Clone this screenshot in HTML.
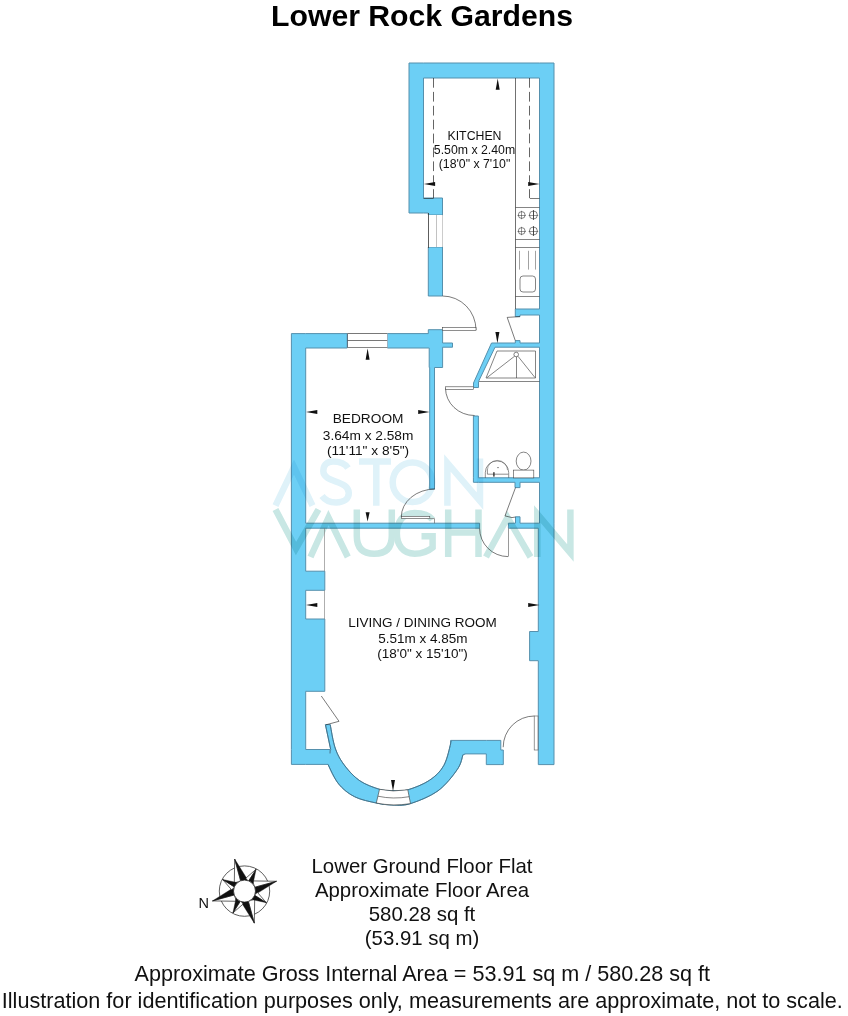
<!DOCTYPE html>
<html><head><meta charset="utf-8"><style>
html,body{margin:0;padding:0;background:#fff;width:848px;height:1016px;overflow:hidden}
svg{display:block;font-family:"Liberation Sans",sans-serif}
</style></head><body>
<svg width="848" height="1016" viewBox="0 0 848 1016">
<path d="M423.50,213.00 L428.30,213.00 L428.30,215.00 L442.50,215.00 L442.50,213.00 L442.50,198.00 L423.50,198.00 L423.50,78.00 L539.50,78.00 L539.50,309.00 L515.30,309.00 L515.30,315.00 L515.30,316.60 L520.00,316.60 L520.00,315.00 L539.50,315.00 L539.50,343.00 L520.00,343.00 L520.00,340.60 L515.30,340.60 L515.30,343.00 L491.50,343.00 L473.50,383.00 L473.50,387.50 L478.50,387.50 L478.50,381.50 L495.00,347.20 L539.50,347.20 L539.50,477.80 L478.40,477.80 L478.40,416.00 L473.40,416.00 L473.40,477.80 L473.40,482.30 L478.40,482.30 L515.00,482.30 L515.00,487.60 L520.00,487.60 L520.00,482.30 L539.50,482.30 L539.50,523.20 L538.30,523.20 L520.00,523.20 L520.00,516.80 L515.50,516.80 L515.50,523.20 L508.40,523.20 L508.40,528.20 L538.30,528.20 L538.30,631.50 L529.60,631.50 L529.60,660.70 L538.30,660.70 L538.30,764.60 L554.00,764.60 L554.00,528.20 L554.00,523.20 L554.00,78.00 L554.00,63.00 L539.50,63.00 L423.50,63.00 L409.00,63.00 L409.00,78.00 L409.00,198.00 L409.00,213.00Z M428.30,247.00 L428.30,296.00 L442.50,296.00 L442.50,247.00Z M428.30,348.00 L429.20,348.00 L429.20,367.50 L429.70,367.50 L429.70,489.00 L434.50,489.00 L434.50,367.50 L442.60,367.50 L442.60,348.00 L442.60,347.20 L452.50,347.20 L452.50,343.00 L442.60,343.00 L442.60,329.70 L428.30,329.70 L428.30,333.60 L387.40,333.60 L387.40,348.00Z M305.70,333.60 L291.40,333.60 L291.40,348.00 L291.40,749.50 L291.40,764.40 L305.70,764.40 L328.00,764.40 L328.86,766.38 L329.76,768.42 L330.70,770.48 L331.69,772.56 L332.73,774.62 L333.82,776.65 L334.96,778.62 L336.15,780.52 L337.40,782.32 L338.70,784.00 L340.05,785.58 L341.45,787.08 L342.91,788.52 L344.41,789.88 L345.96,791.18 L347.57,792.41 L349.24,793.58 L350.97,794.68 L352.75,795.72 L354.60,796.70 L356.56,797.61 L358.65,798.44 L360.84,799.20 L363.10,799.89 L365.40,800.52 L367.70,801.10 L369.97,801.63 L372.19,802.12 L374.31,802.57 L376.30,803.00 L378.17,803.39 L379.95,803.73 L381.65,804.02 L383.30,804.27 L384.91,804.48 L386.50,804.65 L388.09,804.79 L389.69,804.89 L391.32,804.96 L393.00,805.00 L394.67,805.05 L396.29,805.12 L397.88,805.19 L399.46,805.23 L401.07,805.23 L402.74,805.14 L404.49,804.96 L406.35,804.66 L408.34,804.22 L410.50,803.60 L412.88,802.82 L415.49,801.90 L418.28,800.86 L421.18,799.70 L424.14,798.44 L427.12,797.07 L430.05,795.62 L432.87,794.08 L435.54,792.47 L438.00,790.80 L440.32,788.99 L442.59,787.00 L444.79,784.86 L446.92,782.62 L448.96,780.33 L450.88,778.03 L452.69,775.76 L454.35,773.57 L455.86,771.50 L457.20,769.60 L458.34,767.85 L459.26,766.21 L460.01,764.66 L460.62,763.18 L461.11,761.74 L461.52,760.34 L461.89,758.96 L462.23,757.57 L462.59,756.15 L463.00,754.70 L465.00,754.20 L464.78,753.90 L486.30,753.90 L486.30,764.60 L500.80,764.60 L503.30,764.60 L503.30,750.00 L500.80,750.00 L500.80,740.40 L486.30,740.40 L455.00,740.40 L450.60,740.40 L450.60,743.96 L450.23,745.58 L449.64,748.12 L449.01,750.72 L448.32,753.35 L447.58,755.96 L446.78,758.50 L445.90,760.94 L444.94,763.22 L443.90,765.30 L442.78,767.20 L441.60,768.97 L440.35,770.64 L439.04,772.20 L437.65,773.68 L436.19,775.08 L434.66,776.42 L433.05,777.71 L431.36,778.97 L429.60,780.20 L427.69,781.41 L425.61,782.60 L423.39,783.74 L421.08,784.83 L418.73,785.87 L416.38,786.83 L414.06,787.72 L411.83,788.52 L409.73,789.21 L407.80,789.80 L406.03,790.26 L404.37,790.59 L402.80,790.81 L401.31,790.94 L399.88,790.99 L398.49,790.99 L397.12,790.95 L395.76,790.90 L394.40,790.84 L393.00,790.80 L391.62,790.78 L390.31,790.77 L389.05,790.75 L387.80,790.72 L386.55,790.64 L385.28,790.52 L383.96,790.34 L382.57,790.09 L381.09,789.74 L379.50,789.30 L377.77,788.76 L375.90,788.15 L373.92,787.46 L371.87,786.71 L369.79,785.88 L367.69,784.99 L365.63,784.03 L363.62,783.02 L361.70,781.94 L359.90,780.80 L358.20,779.59 L356.53,778.28 L354.91,776.89 L353.34,775.44 L351.82,773.93 L350.35,772.38 L348.93,770.80 L347.56,769.20 L346.25,767.60 L345.00,766.00 L343.81,764.42 L342.69,762.86 L341.62,761.29 L340.61,759.71 L339.65,758.10 L338.74,756.44 L337.87,754.71 L337.04,752.91 L336.26,751.01 L335.50,749.00 L334.79,746.84 L334.13,744.52 L333.52,742.07 L332.95,739.54 L332.42,736.96 L331.93,734.37 L331.47,731.80 L331.03,729.29 L330.61,726.88 L330.20,724.60 L325.40,724.60 L330.70,749.50 L330.00,753.36 L330.00,749.50 L305.70,749.50 L305.70,691.30 L324.80,691.30 L324.80,619.00 L305.70,619.00 L305.70,590.30 L324.80,590.30 L324.80,571.20 L305.70,571.20 L305.70,528.20 L479.60,528.20 L479.60,523.20 L305.70,523.20 L305.70,348.00 L347.20,348.00 L347.20,333.60Z " fill="#6ccff5" stroke="#5590ad" stroke-width="1" stroke-linejoin="miter"/>
<path d="M330.2,724.6 C331.1,728.7 333.0,742.1 335.5,749.0 C338.0,755.9 340.9,760.7 345.0,766.0 C349.1,771.3 354.1,776.9 359.9,780.8 C365.6,784.7 374.0,787.6 379.5,789.3 C385.0,791.0 388.3,790.7 393.0,790.8 C397.7,790.9 401.7,791.6 407.8,789.8 C413.9,788.0 423.6,784.3 429.6,780.2 C435.6,776.1 440.3,771.8 443.9,765.3 C447.5,758.8 450.1,745.0 451.3,740.9" fill="none" stroke="#3d6f86" stroke-width="0.8"/><path d="M463,754.7 C462.0,757.2 461.4,763.6 457.2,769.6 C453.0,775.6 445.8,785.1 438.0,790.8 C430.2,796.5 418.0,801.2 410.5,803.6 C403.0,806.0 398.7,805.1 393.0,805.0 C387.3,804.9 382.7,804.4 376.3,803.0 C369.9,801.6 360.9,799.9 354.6,796.7 C348.3,793.5 343.1,789.4 338.7,784.0 C334.3,778.6 329.8,767.7 328.0,764.4" fill="none" stroke="#3d6f86" stroke-width="0.8"/><path d="M325.4,724.6 L330.7,749.5" fill="none" stroke="#3d6f86" stroke-width="0.8"/><g fill="none" stroke-width="6.5" stroke-linejoin="miter" stroke-miterlimit="10" style="mix-blend-mode:multiply"><g stroke="#dff2f9"><path d="M275.5,505.7 L294,467 L312.5,505.7"/><path d="M348,468 C344,462 336,461.5 333,461.5 C326,461.5 323.3,466 323.3,471 C323.3,483 348.8,480 348.8,493 C348.8,499 344,502.5 336,502.5 C329,502.5 325,500 322,496"/><path d="M359,461.4 L391,461.4 M376.3,461.4 L376.3,505.7"/><circle cx="412.5" cy="482.2" r="19.8"/><path d="M447.4,505.7 L447.4,463 L480,501 L480,458.5"/></g><g stroke="#c8e7e4"><path d="M275.5,509.5 L296,548.5 L318.5,509.5"/><path d="M310.5,557 L328.5,517.5 L347.8,557"/><path d="M356.8,509.5 L356.8,536 C356.8,549 364,553.75 374.3,553.75 C384.6,553.75 391.8,549 391.8,536 L391.8,509.5"/><path d="M432.5,519.5 C428.5,514.5 422,512.9 414.7,512.9 C403,512.9 396.85,522 396.85,533.3 C396.85,545 403,553.75 414.7,553.75 C422,553.75 428.5,551 432.6,547.5 L432.6,536.2 L421.5,536.2"/><path d="M448.2,509.5 L448.2,557 M478.5,509.5 L478.5,557 M448.2,532.5 L478.5,532.5"/><path d="M486,557 L507.5,517.5 L530.5,557"/><path d="M537.3,557 L537.3,514 L570.4,553 L570.4,509.5"/></g></g>
<path d="M379.5,789.3 Q393,792.3 407.8,789.8 L410.5,803.6 Q393,806.5 376.3,803 Z" fill="#fff" stroke="#333" stroke-width="0.6"/><path d="M378,796.2 Q393,799.5 409.2,796.7" fill="none" stroke="#333" stroke-width="0.6"/><rect x="428.3" y="215" width="14.20" height="32.00" fill="#fff"/>
<line x1="428.5" y1="213" x2="428.5" y2="248" stroke="#333" stroke-width="0.8"/>
<line x1="436.5" y1="215" x2="436.5" y2="247" stroke="#999" stroke-width="0.6"/>
<line x1="442.5" y1="215" x2="442.5" y2="247" stroke="#aaa" stroke-width="0.6"/>
<line x1="515.5" y1="78" x2="515.5" y2="309" stroke="#333" stroke-width="0.7"/>
<line x1="515.5" y1="207.5" x2="539.5" y2="207.5" stroke="#333" stroke-width="0.6"/>
<line x1="515.5" y1="239.5" x2="539.5" y2="239.5" stroke="#333" stroke-width="0.6"/>
<line x1="515.5" y1="247.5" x2="539.5" y2="247.5" stroke="#333" stroke-width="0.6"/>
<line x1="515.5" y1="296.5" x2="539.5" y2="296.5" stroke="#333" stroke-width="0.6"/>
<circle cx="521.7" cy="215" r="3.4" fill="none" stroke="#333" stroke-width="0.6"/><line x1="517.5000000000001" y1="215.5" x2="525.9" y2="215.5" stroke="#333" stroke-width="0.5"/>
<line x1="521.5" y1="210.79999999999998" x2="521.5" y2="219.20000000000002" stroke="#333" stroke-width="0.5"/>
<circle cx="533.4" cy="215" r="4.0" fill="none" stroke="#333" stroke-width="0.6"/><line x1="528.6" y1="215.5" x2="538.1999999999999" y2="215.5" stroke="#333" stroke-width="0.5"/>
<line x1="533.5" y1="210.2" x2="533.5" y2="219.8" stroke="#333" stroke-width="0.9"/>
<circle cx="521.7" cy="231" r="3.4" fill="none" stroke="#333" stroke-width="0.6"/><line x1="517.5000000000001" y1="231.5" x2="525.9" y2="231.5" stroke="#333" stroke-width="0.5"/>
<line x1="521.5" y1="226.79999999999998" x2="521.5" y2="235.20000000000002" stroke="#333" stroke-width="0.5"/>
<circle cx="533.4" cy="231" r="4.0" fill="none" stroke="#333" stroke-width="0.6"/><line x1="528.6" y1="231.5" x2="538.1999999999999" y2="231.5" stroke="#333" stroke-width="0.5"/>
<line x1="533.5" y1="226.2" x2="533.5" y2="235.8" stroke="#333" stroke-width="0.9"/>
<line x1="519.5" y1="250.8" x2="519.5" y2="269.6" stroke="#444" stroke-width="0.5"/>
<line x1="528.5" y1="250.8" x2="528.5" y2="269.6" stroke="#444" stroke-width="0.5"/>
<line x1="535.5" y1="250.8" x2="535.5" y2="269.6" stroke="#444" stroke-width="0.5"/>
<rect x="520" y="276" width="15.5" height="16" rx="3" fill="none" stroke="#333" stroke-width="0.6"/><line x1="433.5" y1="78" x2="433.5" y2="198" stroke="#222" stroke-width="0.7" stroke-dasharray="9.7,4.2"/>
<line x1="529.5" y1="78" x2="529.5" y2="198" stroke="#222" stroke-width="0.7" stroke-dasharray="9.7,4.2"/>
<line x1="423.5" y1="198.5" x2="433.6" y2="198.5" stroke="#222" stroke-width="0.6"/>
<line x1="529.8" y1="198.5" x2="539.5" y2="198.5" stroke="#222" stroke-width="0.6"/>
<path d="M442.5,296 A33.5,34 0 0 1 476,330" fill="none" stroke="#222" stroke-width="0.6"/><rect x="442.5" y="327.5" width="33.50" height="3.00" fill="#fff" stroke="#444" stroke-width="0.6"/>
<path d="M520,316.6 L507.2,317.4 L515.3,340.6" fill="none" stroke="#222" stroke-width="0.6"/><path d="M497,351 L535.5,351 L535.5,378 L486,378 Z" fill="none" stroke="#333" stroke-width="0.6" stroke-linejoin="round"/><circle cx="516.2" cy="354.5" r="2.3" fill="#fff" stroke="#333" stroke-width="0.6"/><line x1="516.5" y1="356.8" x2="516.5" y2="378" stroke="#333" stroke-width="0.6"/>
<line x1="514.5" y1="356.3" x2="487" y2="377.6" stroke="#333" stroke-width="0.6"/>
<line x1="518" y1="356.3" x2="535" y2="377.6" stroke="#333" stroke-width="0.6"/>
<line x1="479" y1="381.5" x2="539.5" y2="381.5" stroke="#333" stroke-width="0.6"/>
<path d="M445.5,388 A29,27.5 0 0 0 474.5,415.5" fill="none" stroke="#222" stroke-width="0.6"/><rect x="445.5" y="386.8" width="28.00" height="2.50" fill="#fff" stroke="#444" stroke-width="0.6"/>
<path d="M485.3,477.9 L485.3,472.5 A11.7,11.6 0 0 1 508.7,472.5 L508.7,477.9" fill="none" stroke="#444" stroke-width="0.6"/><path d="M487.4,470 A10,9.5 0 0 1 507.5,470" fill="none" stroke="#555" stroke-width="0.5"/><path d="M487.4,469.8 L487.4,474.2 L508.3,474.2" fill="none" stroke="#444" stroke-width="0.6"/><rect x="493.2" y="472.2" width="1.40" height="4.40" fill="#333"/>
<circle cx="498" cy="467.6" r="0.7" fill="#444"/><ellipse cx="523.6" cy="461.1" rx="7.4" ry="9" fill="none" stroke="#333" stroke-width="0.6"/><rect x="513.3" y="470.1" width="20.50" height="7.80" fill="#fff" stroke="#444" stroke-width="0.6"/>
<path d="M515.5,487.6 L505,515.9 L512,517.6 L515.5,517" fill="none" stroke="#222" stroke-width="0.6"/><rect x="347.4" y="333.6" width="40.00" height="14.00" fill="#fff"/>
<line x1="347.4" y1="333.5" x2="387.4" y2="333.5" stroke="#555" stroke-width="0.8"/>
<line x1="347.4" y1="340.5" x2="387.4" y2="340.5" stroke="#555" stroke-width="0.8"/>
<line x1="347.4" y1="347.5" x2="387.4" y2="347.5" stroke="#666" stroke-width="0.8"/>
<line x1="347.5" y1="333.6" x2="347.5" y2="347.6" stroke="#456" stroke-width="0.8"/>
<line x1="387.5" y1="333.6" x2="387.5" y2="347.6" stroke="#9ab" stroke-width="0.6"/>
<path d="M435,489 A34,28 0 0 0 401.3,517" fill="none" stroke="#222" stroke-width="0.6"/><rect x="401.3" y="516.3" width="28.50" height="2.30" fill="#fff" stroke="#444" stroke-width="0.6"/>
<path d="M429.8,518.6 L434.5,518.6 L434.5,523.3" fill="none" stroke="#555" stroke-width="0.6"/><path d="M479.6,528.3 A28.5,28.3 0 0 0 508,556.6" fill="none" stroke="#222" stroke-width="0.6"/><line x1="508.5" y1="528.3" x2="508.5" y2="556.6" stroke="#555" stroke-width="0.6"/>
<line x1="324.5" y1="528.2" x2="324.5" y2="571.3" stroke="#777" stroke-width="0.6"/>
<line x1="324.5" y1="590.3" x2="324.5" y2="619" stroke="#777" stroke-width="0.6"/>
<path d="M321.3,696 L339,721.3 L326,724.8" fill="none" stroke="#222" stroke-width="0.6"/><path d="M534.4,716 A31.2,31.2 0 0 0 503.2,747.2" fill="none" stroke="#222" stroke-width="0.6"/><rect x="534.2" y="716" width="3.80" height="34.00" fill="#fff" stroke="#555" stroke-width="0.6"/>
<path d="M497.7,78.5 L495.7,89.8 L499.7,89.8 Z" fill="#111"/>
<path d="M423.8,184 L435.1,182.0 L435.1,186.0 Z" fill="#111"/>
<path d="M539.5,184 L528.2,182.0 L528.2,186.0 Z" fill="#111"/>
<path d="M495.4,332 L499.4,332 L497.4,343.3 Z" fill="#111"/>
<path d="M367.6,348.5 L365.6,359.8 L369.6,359.8 Z" fill="#111"/>
<path d="M306,412 L317.3,410.0 L317.3,414.0 Z" fill="#111"/>
<path d="M429.5,412 L418.2,410.0 L418.2,414.0 Z" fill="#111"/>
<path d="M365.6,512.3 L369.6,512.3 L367.6,521.5 Z" fill="#111"/>
<path d="M306,605 L317.3,603.0 L317.3,607.0 Z" fill="#111"/>
<path d="M539.5,604.9 L528.2,602.9 L528.2,606.9 Z" fill="#111"/>
<path d="M391.0,780 L395.0,780 L393,791.3 Z" fill="#111"/>
<circle cx="244.5" cy="891.1" r="25.2" fill="none" stroke="#333" stroke-width="0.8"/><polygon points="234.68,859.07 234.32,883.02 240.66,880.90" fill="#fff" stroke="#222" stroke-width="0.7" stroke-linejoin="round"/>
<polygon points="234.68,859.07 240.80,881.27 248.24,880.75" fill="#111" stroke="#111" stroke-width="0.4"/>
<polygon points="276.53,881.28 252.58,880.92 254.70,887.26" fill="#fff" stroke="#222" stroke-width="0.7" stroke-linejoin="round"/>
<polygon points="276.53,881.28 254.33,887.40 254.85,894.84" fill="#111" stroke="#111" stroke-width="0.4"/>
<polygon points="254.32,923.13 254.68,899.18 248.34,901.30" fill="#fff" stroke="#222" stroke-width="0.7" stroke-linejoin="round"/>
<polygon points="254.32,923.13 248.20,900.93 240.76,901.45" fill="#111" stroke="#111" stroke-width="0.4"/>
<polygon points="212.47,900.92 236.42,901.28 234.30,894.94" fill="#fff" stroke="#222" stroke-width="0.7" stroke-linejoin="round"/>
<polygon points="212.47,900.92 234.67,894.80 234.15,887.36" fill="#111" stroke="#111" stroke-width="0.4"/>
<polygon points="256.12,869.19 245.85,878.17 248.42,881.36" fill="#fff" stroke="#222" stroke-width="0.7" stroke-linejoin="round"/>
<polygon points="256.12,869.19 248.42,881.36 252.77,884.63" fill="#111" stroke="#111" stroke-width="0.4"/>
<polygon points="266.41,902.72 257.43,892.45 254.24,895.02" fill="#fff" stroke="#222" stroke-width="0.7" stroke-linejoin="round"/>
<polygon points="266.41,902.72 254.24,895.02 250.97,899.37" fill="#111" stroke="#111" stroke-width="0.4"/>
<polygon points="232.88,913.01 243.15,904.03 240.58,900.84" fill="#fff" stroke="#222" stroke-width="0.7" stroke-linejoin="round"/>
<polygon points="232.88,913.01 240.58,900.84 236.23,897.57" fill="#111" stroke="#111" stroke-width="0.4"/>
<polygon points="222.59,879.48 231.57,889.75 234.76,887.18" fill="#fff" stroke="#222" stroke-width="0.7" stroke-linejoin="round"/>
<polygon points="222.59,879.48 234.76,887.18 238.03,882.83" fill="#111" stroke="#111" stroke-width="0.4"/><circle cx="244.5" cy="891.1" r="11" fill="#fff" stroke="#222" stroke-width="0.8"/><text x="422" y="25.7" font-size="30.2" text-anchor="middle" font-weight="bold" fill="#000">Lower Rock Gardens</text>
<text x="474.5" y="139.5" font-size="12.3" text-anchor="middle" font-weight="normal" fill="#111">KITCHEN</text>
<text x="474.5" y="153.6" font-size="12.3" text-anchor="middle" font-weight="normal" fill="#111">5.50m x 2.40m</text>
<text x="474.5" y="168.3" font-size="12.3" text-anchor="middle" font-weight="normal" fill="#111">(18'0" x 7'10"</text>
<text x="368.1" y="423" font-size="13.7" text-anchor="middle" font-weight="normal" fill="#111">BEDROOM</text>
<text x="368.1" y="439.6" font-size="13.7" text-anchor="middle" font-weight="normal" fill="#111">3.64m x 2.58m</text>
<text x="368.1" y="454.5" font-size="13.7" text-anchor="middle" font-weight="normal" fill="#111">(11'11" x 8'5")</text>
<text x="422.6" y="626.5" font-size="13.5" text-anchor="middle" font-weight="normal" fill="#111">LIVING / DINING ROOM</text>
<text x="422.9" y="642.5" font-size="13.5" text-anchor="middle" font-weight="normal" fill="#111">5.51m x 4.85m</text>
<text x="422.6" y="658" font-size="13.5" text-anchor="middle" font-weight="normal" fill="#111">(18'0" x 15'10")</text>
<text x="203.7" y="908.3" font-size="14.5" text-anchor="middle" font-weight="normal" fill="#111">N</text>
<text x="422" y="872.6" font-size="20.4" text-anchor="middle" font-weight="normal" fill="#111">Lower Ground Floor Flat</text>
<text x="422" y="896.7" font-size="20.4" text-anchor="middle" font-weight="normal" fill="#111">Approximate Floor Area</text>
<text x="422" y="920.8" font-size="20.4" text-anchor="middle" font-weight="normal" fill="#111">580.28 sq ft</text>
<text x="422" y="944.9" font-size="20.4" text-anchor="middle" font-weight="normal" fill="#111">(53.91 sq m)</text>
<text x="422.3" y="981" font-size="21.6" text-anchor="middle" font-weight="normal" fill="#111">Approximate Gross Internal Area = 53.91 sq m / 580.28 sq ft</text>
<text x="422.3" y="1008.3" font-size="21.63" text-anchor="middle" font-weight="normal" fill="#111">Illustration for identification purposes only, measurements are approximate, not to scale.</text>

</svg></body></html>
